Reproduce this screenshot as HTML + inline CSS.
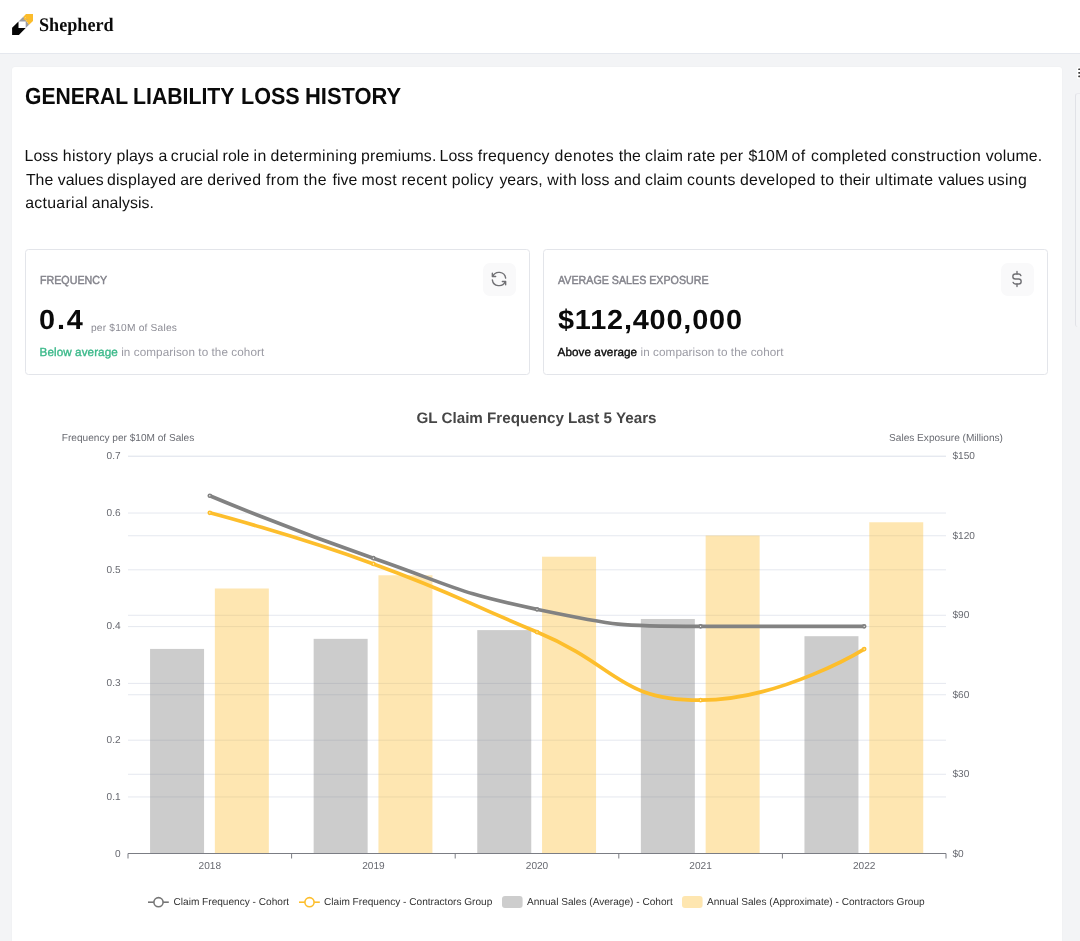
<!DOCTYPE html>
<html lang="en">
<head>
<meta charset="utf-8">
<title>Shepherd - General Liability Loss History</title>
<style>
*{box-sizing:border-box;margin:0;padding:0}
html,body{text-rendering:geometricPrecision;width:1080px;height:941px;overflow:hidden;background:#f3f4f6;font-family:"Liberation Sans",Arial,sans-serif;color:#0a0a0a}
.header{position:absolute;left:0;top:0;width:1080px;height:54px;background:#fff;border-bottom:1px solid #e5e8ee}
.logo{position:absolute;left:11px;top:13px}
.brand{position:absolute;left:39px;top:14px;font-family:"Liberation Serif","Times New Roman",serif;font-weight:bold;font-size:19.2px;line-height:24px;letter-spacing:0;color:#0b0b0b;white-space:nowrap;transform-origin:0 0;transform:scaleX(0.945)}
.card{position:absolute;left:12px;top:67px;width:1049.5px;height:900px;background:#fff;border-radius:3px 3px 0 0;box-shadow:0 0 2px rgba(0,0,0,0.04)}
h1{position:absolute;left:0;top:14px;width:600px;height:30px;font-size:23.3px;line-height:30px;font-weight:bold;color:#0a0a0a;white-space:nowrap}h1 span{position:absolute;top:0;transform-origin:0 0}
.desc{position:absolute;left:13px;top:78px;width:1030px;font-size:15.85px;line-height:23.5px;color:#111;letter-spacing:0.2px}
.desc .ln{position:absolute;left:0;height:23.5px;width:1030px}.desc .ln span{position:absolute;top:0;white-space:pre}.desc .a{top:0}.desc .b{top:23.5px}.desc .c{top:47px}
.stat{position:absolute;top:182px;width:505px;height:126px;border:1px solid #e3e5ea;border-radius:3.5px;background:#fff}
.stat .lbl{position:absolute;left:14px;top:23px;font-size:11.7px;line-height:16px;color:#83838b;-webkit-text-stroke:0.45px #83838b;white-space:nowrap;transform-origin:0 0;transform:scaleX(0.914)}
.stat .val{position:absolute;left:13px;top:50px;font-size:27.5px;line-height:40px;font-weight:bold;letter-spacing:1.1px;color:#0a0a0a;white-space:nowrap}
.stat .unit{position:absolute;left:65px;top:72px;font-size:10.2px;line-height:14px;color:#8a8a93;letter-spacing:0.2px;white-space:nowrap}
.stat .cmp{position:absolute;left:13.5px;top:95px;font-size:11.7px;line-height:16px;color:#9a9aa3;white-space:nowrap;letter-spacing:0.08px}
.stat .cmp b{font-weight:normal;-webkit-text-stroke:0.35px currentColor}
.stat .ic{position:absolute;right:13px;top:13px;width:33px;height:33px;border-radius:7px;background:#f9f9fa}
.stat .ic svg{position:absolute;left:6px;top:6px}
.chart{position:absolute;left:0;top:314px}
.grip{position:absolute;left:1077.4px;top:66.9px;width:6px;height:14px}
.vline{position:absolute;left:1075px;top:93px;width:12px;height:234px;background:#f4f5f7;border-left:1px solid #e1e2e7;border-top:1px solid #e9eaee;border-radius:3px 0 0 3px}
</style>
</head>
<body>
<div class="header">
<svg class="logo" width="24" height="24" viewBox="0 0 24 24"><polygon points="1.1,14.7 7.5,8.6 7.5,15.1 14.7,15.1 7.9,22 1.1,22" fill="#050505"/><polygon points="7.5,8.6 12.3,3.8 18.1,11.7 14.7,15.1 14.7,8.6" fill="#9b9da6"/><polygon points="12.3,3.8 15,1.1 22,1.1 22,8.1 18.1,11.7 16.6,10.2 16.6,9 15.4,9 15.4,7.6 14.2,7.6 14.2,6.4 13.2,6.4 13.2,5" fill="#fbbc2c"/><rect x="12.6" y="6" width="1" height="1" fill="#fbbc2c"/><rect x="15.6" y="6" width="0.9" height="0.9" fill="#b9a98a"/><rect x="14.1" y="4.2" width="0.9" height="0.9" fill="#fdd57a"/></svg>
<div class="brand">Shepherd</div>
</div>
<div class="grip"><svg width="6" height="14" viewBox="0 0 6 14"><rect x="0" y="0" width="8" height="12" rx="1.5" fill="#fff"/><rect x="1.2" y="1.4" width="5" height="1.7" rx="0.6" fill="#3a3a3a"/><rect x="1.2" y="5" width="5" height="1.7" rx="0.6" fill="#3a3a3a"/><rect x="1.2" y="8.500" width="5" height="1.7" rx="0.6" fill="#3a3a3a"/></svg></div>
<div class="vline"></div>
<div class="card">
<h1><span style="left:13.10px;transform:scaleX(0.906)">GENERAL</span> <span style="left:120.95px;transform:scaleX(0.912)">LIABILITY</span> <span style="left:228.75px;transform:scaleX(0.926)">LOSS</span> <span style="left:292.65px;transform:scaleX(0.941)">HISTORY</span></h1>
<div class="desc"><div class="ln a"><span style="left:-0.4px;letter-spacing:0.02px">Loss</span> <span style="left:37.7px;letter-spacing:0.38px">history</span> <span style="left:91.5px;letter-spacing:0.07px">plays</span> <span style="left:133.6px;letter-spacing:0.00px">a</span> <span style="left:145.8px;letter-spacing:0.33px">crucial</span> <span style="left:197.5px;letter-spacing:0.12px">role</span> <span style="left:228.6px;letter-spacing:0.45px">in</span> <span style="left:245.6px;letter-spacing:0.37px">determining</span> <span style="left:336.1px;letter-spacing:0.16px">premiums.</span> <span style="left:414.6px;letter-spacing:0.00px">Loss</span> <span style="left:452.8px;letter-spacing:0.27px">frequency</span> <span style="left:529.6px;letter-spacing:0.43px">denotes</span> <span style="left:593.8px;letter-spacing:0.00px">the</span> <span style="left:620.1px;letter-spacing:0.24px">claim</span> <span style="left:662.1px;letter-spacing:0.28px">rate</span> <span style="left:694.7px;letter-spacing:0.17px">per</span> <span style="left:723.5px;letter-spacing:0.00px">&#36;10M</span> <span style="left:766.6px;letter-spacing:0.45px">of</span> <span style="left:786.0px;letter-spacing:0.31px">completed</span> <span style="left:866.0px;letter-spacing:0.39px">construction</span> <span style="left:960.7px;letter-spacing:0.17px">volume.</span></div><div class="ln b"><span style="left:0.9px;letter-spacing:0.00px">The</span> <span style="left:32.8px;letter-spacing:0.00px">values</span> <span style="left:82.0px;letter-spacing:0.26px">displayed</span> <span style="left:155.2px;letter-spacing:0.00px">are</span> <span style="left:182.2px;letter-spacing:0.31px">derived</span> <span style="left:240.9px;letter-spacing:0.43px">from</span> <span style="left:278.6px;letter-spacing:0.45px">the</span> <span style="left:307.6px;letter-spacing:0.02px">five</span> <span style="left:336.6px;letter-spacing:0.25px">most</span> <span style="left:376.6px;letter-spacing:0.24px">recent</span> <span style="left:426.8px;letter-spacing:0.22px">policy</span> <span style="left:474.4px;letter-spacing:0.01px">years,</span> <span style="left:522.2px;letter-spacing:0.45px">with</span> <span style="left:556.0px;letter-spacing:0.07px">loss</span> <span style="left:589.0px;letter-spacing:0.23px">and</span> <span style="left:620.1px;letter-spacing:0.14px">claim</span> <span style="left:662.0px;letter-spacing:0.33px">counts</span> <span style="left:714.9px;letter-spacing:0.31px">developed</span> <span style="left:795.4px;letter-spacing:0.45px">to</span> <span style="left:814.5px;letter-spacing:0.01px">their</span> <span style="left:850.1px;letter-spacing:0.35px">ultimate</span> <span style="left:913.3px;letter-spacing:0.00px">values</span> <span style="left:962.7px;letter-spacing:0.31px">using</span></div><div class="ln c"><span style="left:0.2px;letter-spacing:0.31px">actuarial</span> <span style="left:66.8px;letter-spacing:0.06px">analysis.</span></div></div>
<div class="stat" style="left:13px">
<div class="lbl">FREQUENCY</div>
<div class="val" style="letter-spacing:1.75px;transform-origin:0 0;transform:scaleX(1.05)">0.4</div>
<div class="unit">per $10M of Sales</div>
<div class="cmp"><b style="color:#3bb98a">Below average</b> in comparison to the cohort</div>
<div class="ic"><svg width="20" height="20" viewBox="0 0 24 24" fill="none" stroke="#707074" stroke-width="1.65" stroke-linecap="round" stroke-linejoin="round"><path d="M20 11a8.1 8.1 0 0 0 -15.500 -2m-.5 -4v4h4"/><path d="M4 13a8.1 8.1 0 0 0 15.500 2m.5 4v-4h-4"/></svg></div>
</div>
<div class="stat" style="left:531px">
<div class="lbl">AVERAGE SALES EXPOSURE</div>
<div class="val" style="left:14px;letter-spacing:0.77px;transform-origin:0 0;transform:scaleX(1.05)">$112,400,000</div>
<div class="cmp"><b style="color:#0a0a0a">Above average</b> in comparison to the cohort</div>
<div class="ic"><svg width="20" height="20" viewBox="0 0 24 24" fill="none" stroke="#707074" stroke-width="1.65" stroke-linecap="round" stroke-linejoin="round"><path d="M16.700 8a3 3 0 0 0 -2.700 -2h-4a3 3 0 0 0 0 6h4a3 3 0 0 1 0 6h-4a3 3 0 0 1 -2.700 -2"/><path d="M12 3v3m0 12v3"/></svg></div>
</div>
<svg class="chart" width="1048" height="560" viewBox="12 381 1048 560" font-family="Liberation Sans, Arial, sans-serif">
<line x1="128" x2="946" y1="796.96" y2="796.96" stroke="#E5E8EF" stroke-width="1"/>
<line x1="128" x2="946" y1="740.18" y2="740.18" stroke="#E5E8EF" stroke-width="1"/>
<line x1="128" x2="946" y1="683.39" y2="683.39" stroke="#E5E8EF" stroke-width="1"/>
<line x1="128" x2="946" y1="626.61" y2="626.61" stroke="#E5E8EF" stroke-width="1"/>
<line x1="128" x2="946" y1="569.82" y2="569.82" stroke="#E5E8EF" stroke-width="1"/>
<line x1="128" x2="946" y1="513.04" y2="513.04" stroke="#E5E8EF" stroke-width="1"/>
<line x1="128" x2="946" y1="456.25" y2="456.25" stroke="#E5E8EF" stroke-width="1"/>
<line x1="128" x2="946" y1="774.25" y2="774.25" stroke="#E5E8EF" stroke-width="1"/>
<line x1="128" x2="946" y1="694.75" y2="694.75" stroke="#E5E8EF" stroke-width="1"/>
<line x1="128" x2="946" y1="615.25" y2="615.25" stroke="#E5E8EF" stroke-width="1"/>
<line x1="128" x2="946" y1="535.75" y2="535.75" stroke="#E5E8EF" stroke-width="1"/>
<line x1="128" x2="946" y1="456.25" y2="456.25" stroke="#E5E8EF" stroke-width="1"/>
<rect x="150.06" y="648.92" width="53.99" height="204.58" fill="#808080" fill-opacity="0.4"/>
<rect x="214.85" y="588.50" width="53.99" height="265.00" fill="#FDBC2C" fill-opacity="0.37"/>
<rect x="313.66" y="638.85" width="53.99" height="214.65" fill="#808080" fill-opacity="0.4"/>
<rect x="378.45" y="575.25" width="53.99" height="278.25" fill="#FDBC2C" fill-opacity="0.37"/>
<rect x="477.26" y="630.11" width="53.99" height="223.39" fill="#808080" fill-opacity="0.4"/>
<rect x="542.05" y="556.70" width="53.99" height="296.80" fill="#FDBC2C" fill-opacity="0.37"/>
<rect x="640.86" y="618.98" width="53.99" height="234.52" fill="#808080" fill-opacity="0.4"/>
<rect x="705.65" y="535.50" width="53.99" height="318.00" fill="#FDBC2C" fill-opacity="0.37"/>
<rect x="804.46" y="636.20" width="53.99" height="217.30" fill="#808080" fill-opacity="0.4"/>
<rect x="869.25" y="522.25" width="53.99" height="331.25" fill="#FDBC2C" fill-opacity="0.37"/>
<line x1="128" x2="946" y1="853.5" y2="853.5" stroke="#7b7d84" stroke-width="1"/>
<line x1="128.00" x2="128.00" y1="853.5" y2="858.5" stroke="#7b7d84" stroke-width="1"/>
<line x1="291.60" x2="291.60" y1="853.5" y2="858.5" stroke="#7b7d84" stroke-width="1"/>
<line x1="455.20" x2="455.20" y1="853.5" y2="858.5" stroke="#7b7d84" stroke-width="1"/>
<line x1="618.80" x2="618.80" y1="853.5" y2="858.5" stroke="#7b7d84" stroke-width="1"/>
<line x1="782.40" x2="782.40" y1="853.5" y2="858.5" stroke="#7b7d84" stroke-width="1"/>
<line x1="946.00" x2="946.00" y1="853.5" y2="858.5" stroke="#7b7d84" stroke-width="1"/>
<path d="M209.80 495.75C209.80 495.75 290.72 529.52 373.40 558.21C454.32 586.30 453.52 591.94 537.00 609.32C617.12 626.01 618.58 626.36 700.60 626.36C782.18 626.36 864.20 626.36 864.20 626.36" fill="none" stroke="#828282" stroke-width="3.7" stroke-linejoin="bevel"/>
<path d="M209.80 512.79C209.80 512.79 292.97 534.58 373.40 563.89C456.57 594.20 455.20 597.96 537.00 632.04C618.80 666.11 617.43 700.18 700.60 700.18C781.03 700.18 864.20 649.07 864.20 649.07" fill="none" stroke="#FDBE2C" stroke-width="3.7" stroke-linejoin="bevel"/>
<circle cx="209.80" cy="495.75" r="1.5" fill="#fff" stroke="#828282" stroke-width="1.7"/>
<circle cx="373.40" cy="558.21" r="1.5" fill="#fff" stroke="#828282" stroke-width="1.7"/>
<circle cx="537.00" cy="609.32" r="1.5" fill="#fff" stroke="#828282" stroke-width="1.7"/>
<circle cx="700.60" cy="626.36" r="1.5" fill="#fff" stroke="#828282" stroke-width="1.7"/>
<circle cx="864.20" cy="626.36" r="1.5" fill="#fff" stroke="#828282" stroke-width="1.7"/>
<circle cx="209.80" cy="512.79" r="1.5" fill="#fff" stroke="#FDBE2C" stroke-width="1.7"/>
<circle cx="373.40" cy="563.89" r="1.5" fill="#fff" stroke="#FDBE2C" stroke-width="1.7"/>
<circle cx="537.00" cy="632.04" r="1.5" fill="#fff" stroke="#FDBE2C" stroke-width="1.7"/>
<circle cx="700.60" cy="700.18" r="1.5" fill="#fff" stroke="#FDBE2C" stroke-width="1.7"/>
<circle cx="864.20" cy="649.07" r="1.5" fill="#fff" stroke="#FDBE2C" stroke-width="1.7"/>
<g font-size="10.1" fill="#686a71">
<text x="120.6" y="854.00" text-anchor="end" dominant-baseline="central">0</text>
<text x="120.6" y="797.21" text-anchor="end" dominant-baseline="central">0.1</text>
<text x="120.6" y="740.43" text-anchor="end" dominant-baseline="central">0.2</text>
<text x="120.6" y="683.64" text-anchor="end" dominant-baseline="central">0.3</text>
<text x="120.6" y="626.86" text-anchor="end" dominant-baseline="central">0.4</text>
<text x="120.6" y="570.07" text-anchor="end" dominant-baseline="central">0.5</text>
<text x="120.6" y="513.29" text-anchor="end" dominant-baseline="central">0.6</text>
<text x="120.6" y="456.50" text-anchor="end" dominant-baseline="central">0.7</text>
<text x="952.5" y="854.20" dominant-baseline="central">$0</text>
<text x="952.5" y="774.70" dominant-baseline="central">$30</text>
<text x="952.5" y="695.20" dominant-baseline="central">$60</text>
<text x="952.5" y="615.70" dominant-baseline="central">$90</text>
<text x="952.5" y="536.20" dominant-baseline="central">$120</text>
<text x="952.5" y="456.70" dominant-baseline="central">$150</text>
<text x="209.80" y="866" text-anchor="middle" dominant-baseline="central">2018</text>
<text x="373.40" y="866" text-anchor="middle" dominant-baseline="central">2019</text>
<text x="537.00" y="866" text-anchor="middle" dominant-baseline="central">2020</text>
<text x="700.60" y="866" text-anchor="middle" dominant-baseline="central">2021</text>
<text x="864.20" y="866" text-anchor="middle" dominant-baseline="central">2022</text>
<text x="128" y="438.8" text-anchor="middle" dominant-baseline="central">Frequency per $10M of Sales</text>
<text x="946" y="438.8" text-anchor="middle" dominant-baseline="central">Sales Exposure (Millions)</text>
</g>
<text x="536.5" y="418" text-anchor="middle" dominant-baseline="central" font-size="15.2" font-weight="bold" fill="#464646">GL Claim Frequency Last 5 Years</text>
<g font-size="10.1" fill="#333">
<line x1="148" x2="168.8" y1="902.2" y2="902.2" stroke="#767676" stroke-width="1.6"/>
<circle cx="158.5" cy="902.2" r="4.6" fill="#fff" stroke="#767676" stroke-width="1.6"/>
<text x="173.5" y="902.8" dominant-baseline="central">Claim Frequency - Cohort</text>
<line x1="299" x2="319.8" y1="902.2" y2="902.2" stroke="#FDBE2C" stroke-width="1.6"/>
<circle cx="309.5" cy="902.2" r="4.6" fill="#fff" stroke="#FDBE2C" stroke-width="1.6"/>
<text x="324" y="902.8" dominant-baseline="central">Claim Frequency - Contractors Group</text>
<rect x="502" y="896.1" width="20.6" height="12" rx="3" fill="#CDCDCD"/>
<text x="527" y="902.8" dominant-baseline="central">Annual Sales (Average) - Cohort</text>
<rect x="682" y="896.1" width="20.6" height="12" rx="3" fill="#FEE6B0"/>
<text x="707" y="902.8" dominant-baseline="central">Annual Sales (Approximate) - Contractors Group</text>
</g>
</svg>
</div>
</body>
</html>
